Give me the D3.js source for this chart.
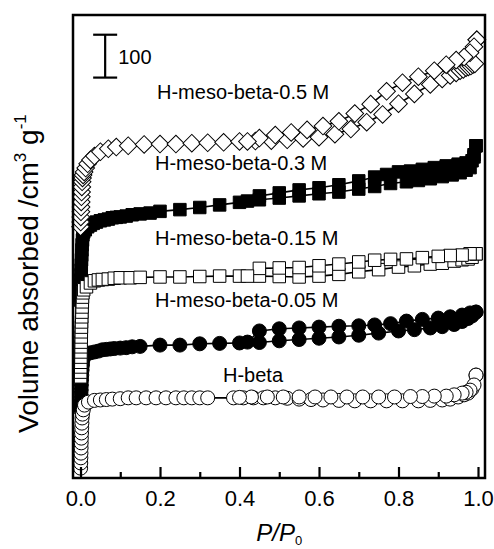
<!DOCTYPE html>
<html><head><meta charset="utf-8">
<script src="https://cdn.jsdelivr.net/npm/d3@7"></script>
<style>body{margin:0;background:#fff}svg{display:block}text{font-family:"Liberation Sans",Arial,sans-serif;fill:#000}</style>
</head><body><svg id="c" width="494" height="549"></svg>
<script>
// ---------- data (P/P0, volume with vertical offsets as plotted) ----------
const hbAdsP=[0.0003,0.0006,0.0009,0.0012,0.0015,0.0018,0.0021,0.0025,0.003,0.0035,0.004,0.005,0.007,0.01,0.02,0.035,0.05,0.065,0.08,0.1,0.12,0.14,0.165,0.19,0.215,0.24,0.26,0.28,0.3,0.32,0.385,0.41,0.435,0.46,0.49,0.52,0.55,0.58,0.61,0.65,0.69,0.73,0.77,0.81,0.85,0.88,0.91,0.93,0.95,0.965,0.975,0.985,0.995];
const hbAdsV=[23,35,47,58,70,82,93,105,117,128,140,149,159,170,177,181,182,183,184,185,187,187,187,187,187,187,187,187,187,187,187,187,187,187,187,186,184,183,182,181,180,180,180,180,180,181,182,184,189,194,198,208,240];
const hbDesP=[0.995,0.99,0.98,0.97,0.96,0.94,0.92,0.89,0.86,0.83,0.79,0.75,0.71,0.67,0.63,0.59,0.55,0.51,0.47,0.43,0.4];
const hbDesV=[240,217,205,200,198,194,191,191,190,190,189,189,189,189,189,189,189,189,189,189,188];

const m05AdsP=[0.0003,0.0006,0.001,0.0014,0.0018,0.0022,0.0027,0.0032,0.004,0.005,0.006,0.008,0.015,0.025,0.035,0.045,0.055,0.065,0.075,0.085,0.1,0.115,0.13,0.15,0.2,0.25,0.3,0.35,0.4,0.45,0.5,0.55,0.6,0.65,0.7,0.75,0.8,0.84,0.88,0.91,0.94,0.96,0.975,0.985,0.995];
const m05AdsV=[159,170,182,194,205,217,229,240,252,264,275,282,289,292,294,296,299,300,301,302,303,304,306,307,310,310,313,314,315,316,320,323,326,329,333,338,343,346,350,353,358,365,372,378,387];
const m05DesP=[0.995,0.98,0.96,0.93,0.9,0.86,0.82,0.78,0.74,0.7,0.65,0.6,0.55,0.5,0.45,0.42];
const m05DesV=[387,385,380,376,373,370,366,360,357,355,354,352,350,348,343,317];

const m15AdsP=[0.0002,0.0004,0.0006,0.0008,0.001,0.0012,0.0014,0.0016,0.0018,0.002,0.0023,0.0026,0.003,0.0035,0.004,0.0045,0.005,0.006,0.008,0.015,0.025,0.035,0.045,0.055,0.07,0.085,0.1,0.125,0.15,0.2,0.25,0.3,0.35,0.4,0.45,0.5,0.55,0.6,0.65,0.7,0.75,0.8,0.84,0.88,0.91,0.94,0.96,0.975,0.985,0.995];
const m15AdsV=[236,247,259,270,282,294,306,317,329,341,352,364,376,387,399,411,422,432,439,446,455,460,462,463,464,466,467,467,468,469,469,470,471,471,471,470,469,471,475,481,486,492,495,499,501,506,509,511,515,523];
const m15DesP=[0.995,0.98,0.96,0.93,0.9,0.86,0.82,0.78,0.74,0.7,0.65,0.6,0.55,0.5,0.45,0.42];
const m15DesV=[523,523,520,519,517,514,511,510,508,504,499,495,491,490,489,471];

const m30AdsP=[0.0002,0.0004,0.0006,0.0008,0.001,0.0013,0.0016,0.002,0.0025,0.003,0.0035,0.004,0.005,0.006,0.008,0.012,0.018,0.025,0.032,0.04,0.05,0.06,0.07,0.08,0.09,0.1,0.115,0.13,0.15,0.175,0.2,0.25,0.3,0.35,0.4,0.45,0.5,0.55,0.6,0.65,0.7,0.74,0.78,0.82,0.85,0.88,0.91,0.935,0.955,0.97,0.98,0.99,0.995];
const m30AdsV=[415,427,439,450,462,474,485,497,509,520,532,544,555,567,574,579,586,590,594,597,600,602,604,607,608,609,611,614,616,618,622,626,631,637,643,649,653,658,663,667,674,680,687,691,694,698,703,707,712,718,724,749,775];
const m30DesP=[0.995,0.99,0.985,0.97,0.95,0.92,0.89,0.86,0.83,0.8,0.77,0.74,0.7,0.65,0.6,0.55,0.5,0.45,0.42];
const m30DesV=[775,754,740,735,732,728,724,720,716,714,708,702,693,684,677,672,665,658,646];

const m50AdsP=[0.0002,0.0005,0.0008,0.0011,0.0014,0.0018,0.0022,0.0027,0.0033,0.004,0.005,0.0065,0.009,0.013,0.018,0.025,0.035,0.05,0.07,0.09,0.12,0.16,0.2,0.24,0.28,0.32,0.36,0.4,0.44,0.48,0.52,0.56,0.6,0.64,0.68,0.72,0.76,0.8,0.84,0.88,0.91,0.93,0.945,0.955,0.963,0.97,0.976,0.982,0.987,0.992,0.997];
const m50AdsV=[586,597,609,621,632,644,656,667,679,691,700,707,714,723,733,742,751,761,768,772,775,778,779,779,781,782,783,785,786,787,789,792,795,802,814,830,848,873,896,918,931,939,945,950,953,957,959,961,964,966,1022];
const m50DesP=[0.997,0.99,0.98,0.965,0.945,0.92,0.89,0.85,0.81,0.77,0.73,0.69,0.65,0.61,0.57,0.53,0.49,0.45,0.42];
const m50DesV=[1022,1006,992,982,975,964,950,936,922,902,872,850,832,821,812,806,800,793,785];

const seriesNames=["H-beta","H-meso-beta-0.05 M","H-meso-beta-0.15 M","H-meso-beta-0.3 M","H-meso-beta-0.5 M"];
const xMajorTicks=[0,0.2,0.4,0.6,0.8,1.0];
const xMinorTicks=[0.1,0.3,0.5,0.7,0.9];
const scaleBarValue=100;

// ---------- chart ----------
const svg=d3.select("#c");
const L=73,R=485,T=15,B=478;
const x=d3.scaleLinear().domain([-0.0189,1.0176]).range([L,R]);
const y=d3.scaleLinear().domain([0,1080]).range([B,T]);

const zip=(P,V)=>P.map((p,i)=>({p,v:V[i]}));
const series=[
 {name:seriesNames[3],shape:"square",fill:"#000",ads:zip(m30AdsP,m30AdsV),des:zip(m30DesP,m30DesV),lx:155,ly:170},
 {name:seriesNames[1],shape:"circle",fill:"#000",ads:zip(m05AdsP,m05AdsV),des:zip(m05DesP,m05DesV),lx:155,ly:307},
 {name:seriesNames[2],shape:"square",fill:"#fff",ads:zip(m15AdsP,m15AdsV),des:zip(m15DesP,m15DesV),lx:155,ly:245},
 {name:seriesNames[0],shape:"circle",fill:"#fff",ads:zip(hbAdsP,hbAdsV),des:zip(hbDesP,hbDesV),lx:223,ly:382},
 {name:seriesNames[4],shape:"diamond",fill:"#fff",ads:zip(m50AdsP,m50AdsV),des:zip(m50DesP,m50DesV),lx:157,ly:99}
];

const line=d3.line().x(d=>x(d.p)).y(d=>y(d.v));
const sym={
 circle:d3.symbol().type(d3.symbolCircle).size(Math.PI*7*7),
 square:d3.symbol().type(d3.symbolSquare).size(12.5*12.5),
 diamond:d3.symbol().type(d3.symbolSquare).size(12.5*12.5)
};
const g=svg.append("g");
series.forEach(s=>{
  const sg=g.append("g");
  [s.ads,s.des].forEach(br=>{
    sg.append("path").attr("d",line(br)).attr("fill","none").attr("stroke","#000").attr("stroke-width",1.6);
  });
  const pts=s.ads.concat(s.des);
  sg.selectAll("path.m").data(pts).join("path").attr("class","m")
    .attr("d",sym[s.shape]())
    .attr("transform",d=>`translate(${x(d.p)},${y(d.v)})`+(s.shape==="diamond"?" rotate(45)":""))
    .attr("fill",s.fill).attr("stroke","#000").attr("stroke-width",1);
});

// series labels
series.forEach(s=>{
  svg.append("text").attr("x",s.lx).attr("y",s.ly).attr("font-size",20).text(s.name);
});

// frame
svg.append("rect").attr("x",L).attr("y",T).attr("width",R-L).attr("height",B-T)
  .attr("fill","none").attr("stroke","#000").attr("stroke-width",2.5);

// x axis (inward ticks)
const ax=svg.append("g").attr("transform",`translate(0,${B})`)
  .call(d3.axisBottom(x).tickValues(xMajorTicks).tickSize(-11).tickPadding(12).tickFormat(d3.format(".1f")));
ax.select(".domain").remove();
ax.selectAll(".tick line").attr("stroke-width",2.2);
ax.selectAll(".tick text").attr("font-size",22).attr("font-family","'Liberation Sans',Arial,sans-serif");
const axm=svg.append("g").attr("transform",`translate(0,${B})`)
  .call(d3.axisBottom(x).tickValues(xMinorTicks).tickSize(-6).tickFormat(""));
axm.select(".domain").remove();
axm.selectAll(".tick line").attr("stroke-width",2.2);

// scale bar
const sbX=x(0.062), sbTop=y(934+scaleBarValue), sbBot=y(934);
svg.append("line").attr("x1",sbX).attr("x2",sbX).attr("y1",sbTop).attr("y2",sbBot).attr("stroke","#000").attr("stroke-width",2.2);
[sbTop,sbBot].forEach(yy=>svg.append("line").attr("x1",sbX-12).attr("x2",sbX+12).attr("y1",yy).attr("y2",yy).attr("stroke","#000").attr("stroke-width",2.2));
svg.append("text").attr("x",sbX+13).attr("y",64).attr("font-size",20).text(String(scaleBarValue));

// x title
const xt=svg.append("text").attr("x",(x(0)+x(1))/2).attr("y",541).attr("text-anchor","middle").attr("font-size",24);
xt.append("tspan").attr("font-style","italic").text("P/P");
xt.append("tspan").attr("font-size",13).attr("dy",4).text("0");

// y title
const yt=svg.append("text").attr("transform","translate(38,433) rotate(-90)").attr("text-anchor","start").attr("font-size",28);
yt.append("tspan").text("Volume absorbed /cm");
yt.append("tspan").attr("font-size",17).attr("dy",-12).text("3");
yt.append("tspan").attr("dy",12).text(" g");
yt.append("tspan").attr("font-size",17).attr("dy",-12).text("-1");
</script></body></html>
